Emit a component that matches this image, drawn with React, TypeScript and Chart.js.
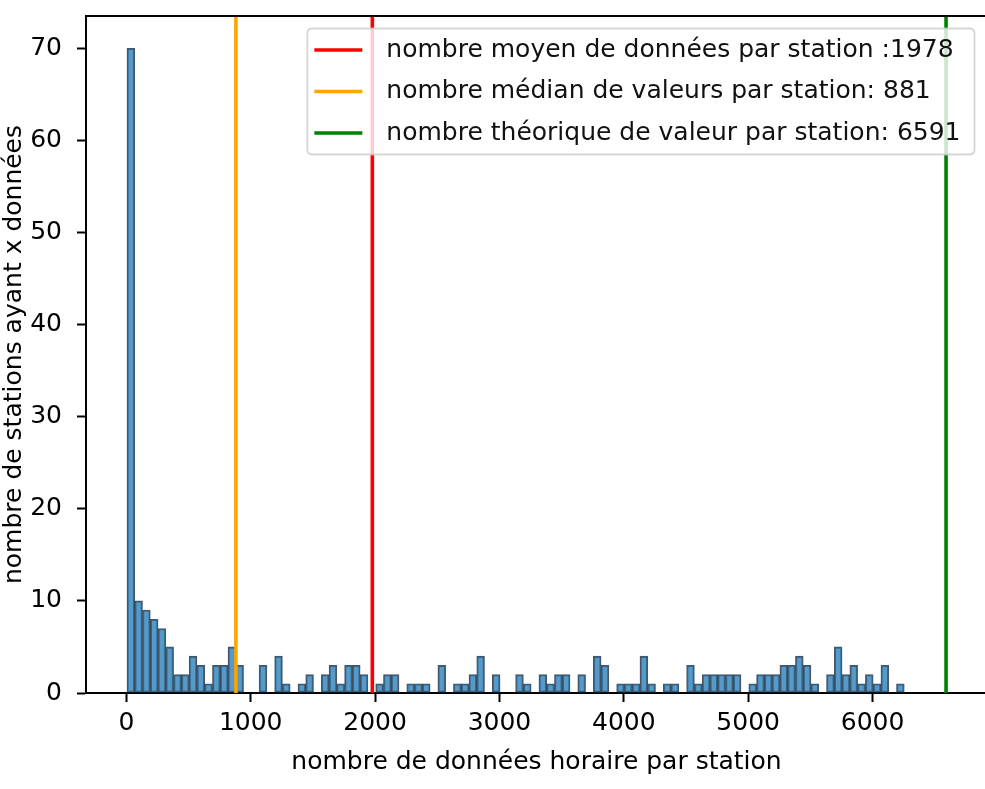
import { useEffect, useRef } from "react";
import { Chart, registerables } from "chart.js";

Chart.register(...registerables);

// Histogram: 100 bins
const binStart = 5;
const binWidth = 62.5;
const counts = [
  70, 10, 9, 8, 7, 5, 2, 2, 4, 3,
  1, 3, 3, 5, 3, 0, 0, 3, 0, 4,
  1, 0, 1, 2, 0, 2, 3, 1, 3, 3,
  2, 0, 1, 2, 2, 0, 1, 1, 1, 0,
  3, 0, 1, 1, 2, 4, 0, 2, 0, 0,
  2, 1, 0, 2, 1, 2, 2, 0, 2, 0,
  4, 3, 0, 1, 1, 1, 4, 1, 0, 1,
  1, 0, 3, 1, 2, 2, 2, 2, 2, 0,
  1, 2, 2, 2, 3, 3, 4, 3, 1, 0,
  2, 5, 2, 3, 1, 2, 1, 3, 0, 1,
];

const lineLabels = [
  "nombre moyen de données par station :1978",
  "nombre médian de valeurs par station: 881",
  "nombre théorique de valeur par station: 6591",
];
const lineValues = [1978, 881, 6591];
const lineColors = ["#ff0000", "#ffa500", "#008000"];

const xTicks = [0, 1000, 2000, 3000, 4000, 5000, 6000];
const yTicks = [0, 10, 20, 30, 40, 50, 60, 70];

const xTitle = "nombre de données horaire par station";
const yTitle = "nombre de stations ayant x données";

const FS = 25;
const FONT = "'DejaVu Sans'";

export default function App() {
  const ref = useRef<HTMLCanvasElement | null>(null);

  useEffect(() => {
    const canvas = ref.current;
    if (!canvas) return;

    const dataMin = binStart;
    const dataMax = Math.max(binStart + counts.length * binWidth, ...lineValues);
    const xr = dataMax - dataMin;
    const xMin = dataMin - 0.05 * xr;
    const xMax = dataMax + 0.05 * xr;
    const yMax = Math.max(...counts) * 1.05;

    const barData = counts.map((c, i) => ({
      x: binStart + binWidth * (i + 0.5),
      y: c === 0 ? null : c,
    }));

    const spinesAndLegend = {
      id: "spinesAndLegend",
      afterDraw(chart: any) {
        const ctx = chart.ctx as CanvasRenderingContext2D;
        const ca = chart.chartArea;
        ctx.save();
        // top & right spines
        ctx.strokeStyle = "#000";
        ctx.lineWidth = 2;
        ctx.beginPath();
        ctx.moveTo(ca.left - 1, ca.top);
        ctx.lineTo(ca.right, ca.top);
        ctx.lineTo(ca.right, ca.bottom);
        ctx.stroke();

        // legend
        ctx.font = `${FS}px ${FONT}`;
        let tw = 0;
        lineLabels.forEach((l) => {
          tw = Math.max(tw, ctx.measureText(l).width);
        });
        const padL = 7;
        const padR = 14;
        const padV = 7;
        const handle = 48;
        const textOff = 79;
        const rowH = 29;
        const ls = 0.5 * FS;
        const w = textOff + tw + padR;
        const h = 2 * padV + lineLabels.length * rowH + (lineLabels.length - 1) * ls;
        const right = ca.right - 0.5 * FS;
        const left = right - w;
        const top = ca.top + 0.5 * FS;
        const r = 5;
        ctx.beginPath();
        ctx.moveTo(left + r, top);
        ctx.lineTo(left + w - r, top);
        ctx.quadraticCurveTo(left + w, top, left + w, top + r);
        ctx.lineTo(left + w, top + h - r);
        ctx.quadraticCurveTo(left + w, top + h, left + w - r, top + h);
        ctx.lineTo(left + r, top + h);
        ctx.quadraticCurveTo(left, top + h, left, top + h - r);
        ctx.lineTo(left, top + r);
        ctx.quadraticCurveTo(left, top, left + r, top);
        ctx.closePath();
        ctx.fillStyle = "rgba(255,255,255,0.8)";
        ctx.fill();
        ctx.strokeStyle = "rgba(204,204,204,0.8)";
        ctx.lineWidth = 1.8;
        ctx.stroke();

        lineLabels.forEach((l, i) => {
          const cy = top + padV + rowH / 2 + i * (rowH + ls);
          ctx.strokeStyle = lineColors[i];
          ctx.lineWidth = 3.6;
          ctx.beginPath();
          ctx.moveTo(left + padL, cy);
          ctx.lineTo(left + padL + handle, cy);
          ctx.stroke();
          ctx.fillStyle = "#111";
          ctx.textBaseline = "middle";
          ctx.textAlign = "left";
          ctx.fillText(l, left + textOff, cy);
        });
        ctx.restore();
      },
    };

    const datasets: any[] = [
      {
        type: "bar",
        label: "hist",
        data: barData,
        backgroundColor: "rgba(31,119,180,0.75)",
        borderColor: "rgba(25,45,65,0.8)",
        borderWidth: 1.4,
        borderSkipped: false,
        barPercentage: 1,
        categoryPercentage: 1,
        order: 2,
      },
      ...lineValues.map((v, i) => ({
        type: "line",
        label: lineLabels[i],
        data: [
          { x: v, y: 0 },
          { x: v, y: yMax },
        ],
        borderColor: lineColors[i],
        borderWidth: 3.6,
        pointRadius: 0,
        fill: false,
        order: 1,
      })),
    ];

    const chart = new Chart(canvas, {
      type: "bar",
      data: { datasets },
      options: {
        animation: false,
        responsive: false,
        devicePixelRatio: 1,
        layout: { padding: { left: 0, top: 16, right: 3, bottom: 0 } },
        plugins: {
          legend: { display: false },
          tooltip: { enabled: false },
        },
        scales: {
          x: {
            type: "linear",
            offset: false,
            min: xMin,
            max: xMax,
            afterBuildTicks(scale: any) {
              scale.ticks = xTicks.map((v) => ({ value: v }));
            },
            afterFit(scale: any) {
              scale.height = 96;
              scale.paddingLeft = 0;
              scale.paddingRight = 0;
            },
            grid: {
              offset: false,
              drawOnChartArea: false,
              drawTicks: true,
              tickLength: 9,
              tickWidth: 2,
              tickColor: "#000",
            },
            border: { display: true, color: "#000", width: 2 },
            ticks: {
              autoSkip: false,
              padding: 6,
              color: "#000",
              font: { family: FONT, size: FS },
              maxRotation: 0,
              callback: (v: any) => String(v),
            },
            title: {
              display: true,
              text: xTitle,
              color: "#000",
              font: { family: FONT, size: FS },
              padding: { top: 0, bottom: 12 },
            },
          },
          y: {
            type: "linear",
            min: 0,
            max: yMax,
            afterBuildTicks(scale: any) {
              scale.ticks = yTicks.map((v) => ({ value: v }));
            },
            afterFit(scale: any) {
              scale.width = 86;
              scale.paddingTop = 0;
              scale.paddingBottom = 0;
            },
            grid: {
              drawOnChartArea: false,
              drawTicks: true,
              tickLength: 9,
              tickWidth: 2,
              tickColor: "#000",
            },
            border: { display: true, color: "#000", width: 2 },
            ticks: {
              autoSkip: false,
              padding: 15,
              color: "#000",
              font: { family: FONT, size: FS },
              callback: (v: any) => String(v),
            },
            title: {
              display: true,
              text: yTitle,
              color: "#000",
              font: { family: FONT, size: FS, lineHeight: 1.12 },
              padding: { top: 0, bottom: 0 },
            },
          },
        },
      } as any,
      plugins: [spinesAndLegend],
    });

    return () => chart.destroy();
  }, []);

  return (
    <div
      style={{
        position: "fixed",
        left: 0,
        top: 0,
        width: 985,
        height: 789,
        overflow: "hidden",
        background: "#fff",
      }}
    >
      <canvas ref={ref} width={990} height={789} style={{ width: 990, height: 789, display: "block" }} />
    </div>
  );
}
